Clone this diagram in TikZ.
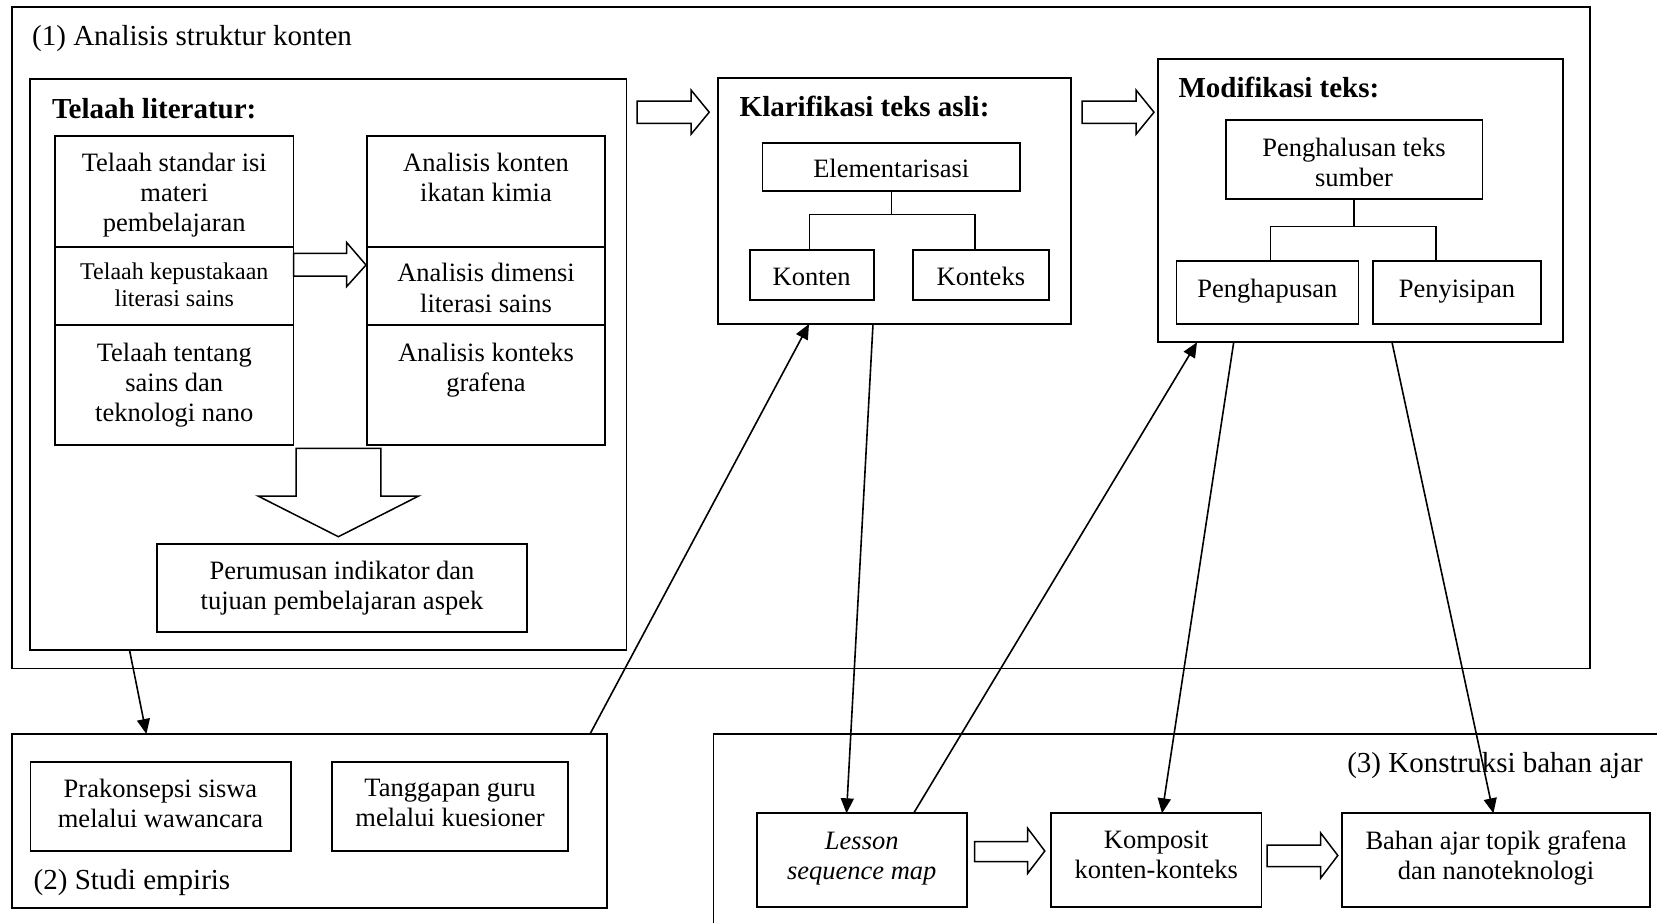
\documentclass[tikz,border=0pt]{standalone}
\usepackage{fontspec}
\setmainfont{Liberation Serif}
\usetikzlibrary{arrows.meta,fit}
\begin{document}
\begin{tikzpicture}[x=1pt,y=-1pt,
  box/.style={draw, line width=1.8pt, inner sep=0pt, outer sep=0pt},
  txt/.style={inner sep=0pt, align=center, font=\fontsize{26.5}{30}\selectfont},
  small/.style={inner sep=0pt, align=center, font=\fontsize{24}{27}\selectfont},
  lbl/.style={inner sep=0pt, font=\fontsize{29}{33}\selectfont},
  head/.style={inner sep=0pt, font=\fontsize{29}{33}\selectfont\bfseries},
  conn/.style={line width=1.6pt, -{Triangle[length=15pt,width=13pt]}},
  tree/.style={line width=1.5pt},
  hollow/.style={draw, line width=1.5pt, fill=white, line join=miter}]
\useasboundingbox (0,0) rectangle (1657,922);
\fill[white] (0,0) rectangle (1657,922);
\clip (0,0) rectangle (1657,922);

% (1) outer
\node[box, fit={(11.6,7) (1590,668.5)}] (o1) {};
\node[lbl, anchor=base west] (lab1) at (32,45) {(1) Analisis struktur konten};

% Telaah literatur
\node[box, fit={(30.3,79) (626.5,650)}] (tl) {};
\node[head, anchor=base west] (tlh) at (51.8,118) {Telaah literatur:};
\node[box, fit={(55,135.7) (293.5,246.7)}] (l1) {};
\node[box, fit={(55,246.7) (293.5,325)}] (l2) {};
\node[box, fit={(55,325) (293.5,445)}] (l3) {};
\node[box, fit={(366.8,135.7) (605.2,246.7)}] (r1) {};
\node[box, fit={(366.8,246.7) (605.2,325)}] (r2) {};
\node[box, fit={(366.8,325) (605.2,445)}] (r3) {};
\node[txt, anchor=north] (l1t) at (174.3,152.5) {Telaah standar isi\\materi\\pembelajaran};
\node[small, anchor=north] (l2t) at (174.3,262.5) {Telaah kepustakaan\\literasi sains};
\node[txt, anchor=north] (l3t) at (174.3,342.5) {Telaah tentang\\sains dan\\teknologi nano};
\node[txt, anchor=north] (r1t) at (486,152.5) {Analisis konten\\ikatan kimia};
\node[txt, anchor=north, font=\fontsize{26.5}{31}\selectfont] (r2t) at (486,263) {Analisis dimensi\\literasi sains};
\node[txt, anchor=north] (r3t) at (486,342.5) {Analisis konteks\\grafena};
\draw[hollow] (293.5,253.3) -- (346.5,253.3) -- (346.5,242.3) -- (366,265) -- (346.5,286.7) -- (346.5,276) -- (293.5,276) -- cycle;
\draw[hollow] (296,448.3) -- (380.8,448.3) -- (380.8,496) -- (418.7,496) -- (338.4,536.7) -- (258,496) -- (296,496) -- cycle;
\node[box, fit={(156.7,543.7) (527.2,632)}] (pr) {};
\node[txt, anchor=north] (prt) at (342,560.8) {Perumusan indikator dan\\tujuan pembelajaran aspek};

% Klarifikasi
\draw[hollow] (637,101) -- (691,101) -- (691,90) -- (709.2,112.2) -- (691,134.3) -- (691,123.3) -- (637,123.3) -- cycle;
\node[box, fit={(718,78.3) (1071.2,324)}] (kl) {};
\node[head, anchor=base west] (klh) at (739.5,116.7) {Klarifikasi teks asli:};
\node[box, fit={(762.5,143) (1020,191)}] (el) {};
\node[txt, anchor=base] (elt) at (891.25,177.5) {Elementarisasi};
\node[box, fit={(749.7,249.7) (873.7,299.7)}] (kn) {};
\node[txt, anchor=base] (knt) at (811.7,285.5) {Konten};
\node[box, fit={(912.8,249.7) (1049,299.7)}] (kt) {};
\node[txt, anchor=base] (ktt) at (980.9,285.5) {Konteks};
\draw[tree] (el.south) -- ++(0,23.3) -| ([xshift=60pt]kn.north west);
\draw[tree] (el.south) -- ++(0,23.3) -| ([xshift=62pt]kt.north west);

% Modifikasi
\draw[hollow] (1082,101) -- (1136,101) -- (1136,90) -- (1154,112.2) -- (1136,134.3) -- (1136,123.3) -- (1082,123.3) -- cycle;
\node[box, fit={(1158,59) (1562.6,342.3)}] (md) {};
\node[head, anchor=base west] (mdh) at (1178.4,97.3) {Modifikasi teks:};
\node[box, fit={(1225.6,120) (1482.4,198.7)}] (ph) {};
\node[txt, anchor=north] (pht) at (1354,137.5) {Penghalusan teks\\sumber};
\node[box, fit={(1176.4,261) (1358.4,324)}] (pp) {};
\node[txt, anchor=base] (ppt) at (1267.4,297) {Penghapusan};
\node[box, fit={(1373.2,261) (1541,324)}] (ps) {};
\node[txt, anchor=base] (pst) at (1457,297) {Penyisipan};
\draw[tree] (ph.south) -- ++(0,28) -| ([xshift=94.3pt]pp.north west);
\draw[tree] (ph.south) -- ++(0,28) -| ([xshift=62.7pt]ps.north west);

% (2) Studi empiris
\node[box, fit={(11.6,734) (607,908.3)}] (em) {};
\node[box, fit={(30.4,761.7) (290.6,850.7)}] (pk) {};
\node[txt, anchor=north] (pkt) at (160.5,779.2) {Prakonsepsi siswa\\melalui wawancara};
\node[box, fit={(331.7,761.7) (568.3,850.7)}] (tg) {};
\node[txt, anchor=north] (tgt) at (450,779.2) {Tanggapan guru\\melalui kuesioner};
\node[lbl, anchor=base west] (lab2) at (33.5,889) {(2) Studi empiris};

% (3) Konstruksi
\node[box, fit={(713.4,734.3) (1700,960)}] (ks) {};
\node[lbl, anchor=base east] (lab3) at (1643,772.7) {(3) Konstruksi bahan ajar};
\node[box, fit={(756.8,813.3) (966.7,907.3)}] (ls) {};
\node[txt, anchor=north] (lst) at (861.75,831.5) {\itshape Lesson\\\itshape sequence map};
\node[box, fit={(1051,813.3) (1261.5,907.3)}] (kp) {};
\node[txt, anchor=north] (kpt) at (1156.25,830.8) {Komposit\\konten-konteks};
\node[box, fit={(1342,813.3) (1650.2,907.3)}] (bh) {};
\node[txt, anchor=north] (bht) at (1496.1,830.8) {Bahan ajar topik grafena\\dan nanoteknologi};
\draw[hollow] (974.6,841.7) -- (1027.7,841.7) -- (1027.7,828.3) -- (1044.8,851) -- (1027.7,873.3) -- (1027.7,861.7) -- (974.6,861.7) -- cycle;
\draw[hollow] (1267,845) -- (1320.7,845) -- (1320.7,833) -- (1337.8,855.5) -- (1320.7,878) -- (1320.7,866.7) -- (1267,866.7) -- cycle;

% connectors
\draw[conn] ([xshift=99.2pt]tl.south west) -- ([xshift=134.8pt]em.north west);
\draw[conn] ([xshift=-17pt]em.north east) -- ([xshift=91pt]kl.south west);
\draw[conn] ([xshift=155pt]kl.south west) -- ([xshift=89.7pt]ls.north west);
\draw[conn] ([xshift=156.8pt]ls.north west) -- ([xshift=39pt]md.south west);
\draw[conn] ([xshift=75.7pt]md.south west) -- ([xshift=111pt]kp.north west);
\draw[conn] ([xshift=234pt]md.south west) -- ([xshift=151.4pt]bh.north west);
\end{tikzpicture}
\end{document}
